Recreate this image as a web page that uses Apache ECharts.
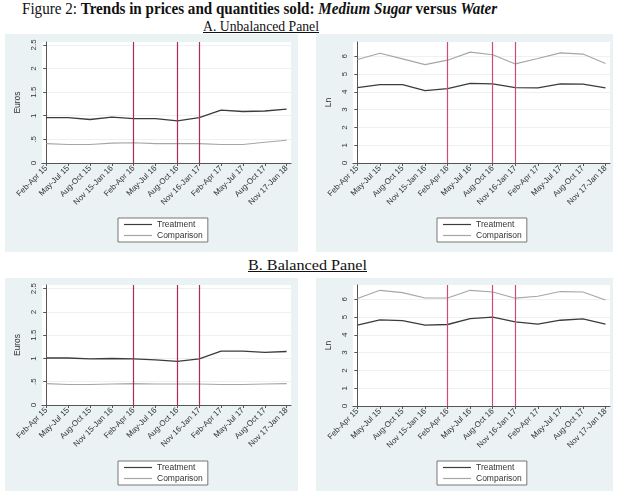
<!DOCTYPE html>
<html>
<head>
<meta charset="utf-8">
<script src="https://cdn.jsdelivr.net/npm/echarts@6/dist/echarts.min.js"></script>
<style>
  body { margin: 0; background: #fff; width: 617px; height: 491px; position: relative; overflow: hidden; }
  .ttl { position: absolute; font-family: "Liberation Serif", serif; color: #111; white-space: nowrap; transform-origin: 0 0; }
  .panel { position: absolute; }
</style>
</head>
<body>
<div class="ttl" data-w="475" style="left:22px; top:0px; font-size:16px;">Figure 2: <b>Trends in prices and quantities sold: <i>Medium Sugar</i> versus <i>Water</i></b></div>
<div class="ttl" data-w="116" style="left:203px; top:17px; font-size:15.5px; text-decoration:underline;">A. Unbalanced Panel</div>
<div class="ttl" data-w="119" style="left:248px; top:256px; font-size:15.5px; text-decoration:underline;">B. Balanced Panel</div>

<div id="euroA" class="panel" style="left:5px; top:34px; width:293px; height:218px;"></div>
<div id="lnA" class="panel" style="left:316px; top:34px; width:297px; height:218px;"></div>
<div id="euroB" class="panel" style="left:5px; top:278px; width:293px; height:213px;"></div>
<div id="lnB" class="panel" style="left:316px; top:278px; width:297px; height:213px;"></div>

<script>
// quarters on the x axis
const categories = ['Feb-Apr 15', 'May-Jul 15', 'Aug-Oct 15', 'Nov 15-Jan 16', 'Feb-Apr 16', 'May-Jul 16',
    'Aug-Oct 16', 'Nov 16-Jan 17', 'Feb-Apr 17', 'May-Jul 17', 'Aug-Oct 17', 'Nov 17-Jan 18'];

// policy dates (red vertical lines)
const breaks = ['Feb-Apr 16', 'Aug-Oct 16', 'Nov 16-Jan 17'];

// A. Unbalanced panel
const euroTreatA = [0.96, 0.96, 0.92, 0.97, 0.94, 0.94, 0.89, 0.96, 1.12, 1.09, 1.10, 1.14];
const euroCompA  = [0.41, 0.39, 0.39, 0.42, 0.43, 0.41, 0.41, 0.41, 0.39, 0.39, 0.44, 0.48];
const lnTreatA   = [4.24, 4.41, 4.41, 4.07, 4.18, 4.48, 4.45, 4.24, 4.22, 4.45, 4.43, 4.22];
const lnCompA    = [5.82, 6.17, 5.85, 5.53, 5.78, 6.23, 6.08, 5.57, 5.87, 6.19, 6.12, 5.59];

// B. Balanced panel
const euroTreatB = [1.01, 1.01, 0.99, 1.00, 0.99, 0.97, 0.94, 0.99, 1.16, 1.16, 1.13, 1.15];
const euroCompB  = [0.46, 0.44, 0.44, 0.45, 0.46, 0.45, 0.45, 0.45, 0.44, 0.44, 0.45, 0.46];
const lnTreatB   = [4.54, 4.84, 4.80, 4.54, 4.58, 4.91, 4.99, 4.73, 4.60, 4.82, 4.90, 4.60];
const lnCompB    = [6.04, 6.50, 6.37, 6.07, 6.07, 6.50, 6.41, 6.06, 6.17, 6.43, 6.41, 5.96];

// y tick labels
const euroTicks = [0, 0.5, 1, 1.5, 2, 2.5];
const lnTicks = [0, 1, 2, 3, 4, 5, 6];

const font = 'Liberation Sans, Arial, sans-serif';

// squeeze titles to the width they take in the figure
document.querySelectorAll('.ttl').forEach(function(el) {
    const w = el.getBoundingClientRect().width;
    const target = +el.getAttribute('data-w');
    if (w > 0) el.style.transform = 'scaleX(' + (target / w) + ')';
});

function pairs(arr) {
    return arr.map(function(v, i) { return [i, v]; });
}

function fmtY(v) {
    return String(v).replace(/^0\./, '.');
}

function makePanel(id, opts) {
    const el = document.getElementById(id);
    const chart = echarts.init(el);
    const xIdx = categories.map(function(c, i) { return i; });
    chart.setOption({
        animation: false,
        backgroundColor: '#eaf2f3',
        textStyle: { fontFamily: font },
        grid: {
            left: opts.left, top: opts.top, width: 263, height: opts.height,
            show: true, backgroundColor: '#fff', borderWidth: 0
        },
        xAxis: {
            type: 'value', min: -0.2, max: 11.2,
            axisLine: { show: true, lineStyle: { color: '#555', width: 1 } },
            axisTick: { show: true, length: 3, customValues: xIdx, lineStyle: { color: '#555' } },
            axisLabel: {
                customValues: xIdx, rotate: 45, fontSize: 8, color: '#333', margin: 4,
                formatter: function(v) { return categories[v]; }
            },
            splitLine: { show: false }
        },
        yAxis: {
            type: 'value', min: 0, max: opts.max,
            name: opts.name, nameLocation: 'middle', nameGap: 15, nameRotate: 90,
            nameTextStyle: { fontSize: 8.5, color: '#333' },
            axisLine: { show: true, lineStyle: { color: '#555', width: 1 } },
            axisTick: { show: true, length: 3, customValues: opts.ticks, lineStyle: { color: '#555' } },
            axisLabel: {
                customValues: opts.ticks, rotate: 90, fontSize: 8, color: '#333', margin: 4,
                formatter: fmtY
            },
            splitLine: { show: true, lineStyle: { color: '#eaf2f3', width: 1 } }
        },
        legend: {
            left: opts.legLeft, top: opts.legTop, orient: 'vertical',
            data: ['Treatment', 'Comparison'],
            icon: 'rect', itemWidth: 28, itemHeight: 1.2, itemGap: 2,
            padding: [2, 5, 2, 6],
            backgroundColor: '#fff', borderColor: '#777', borderWidth: 1,
            textStyle: { fontSize: 8.5, color: '#333', fontFamily: font }
        },
        series: [
            {
                name: 'Treatment', type: 'line', symbol: 'none',
                data: pairs(opts.treat),
                lineStyle: { color: '#3c3c3c', width: 1.3 }, itemStyle: { color: '#3c3c3c' },
                markLine: {
                    silent: true, symbol: 'none', label: { show: false },
                    lineStyle: { color: opts.red, width: 1.2, type: 'solid' },
                    data: breaks.map(function(b) { return { xAxis: categories.indexOf(b) }; })
                },
                z: 3
            },
            {
                name: 'Comparison', type: 'line', symbol: 'none',
                data: pairs(opts.comp),
                lineStyle: { color: '#a6a6a6', width: 1.1 }, itemStyle: { color: '#a6a6a6' },
                z: 2
            }
        ]
    });
    return chart;
}

makePanel('euroA', { left: 23, top: 8, height: 121, max: 2.56, ticks: euroTicks, name: 'Euros',
    treat: euroTreatA, comp: euroCompA, legLeft: 113, legTop: 184, red: '#b02a55' });
makePanel('lnA', { left: 31, top: 8, height: 121, max: 6.8, ticks: lnTicks, name: 'Ln',
    treat: lnTreatA, comp: lnCompA, legLeft: 121, legTop: 184, red: '#d04a78' });
makePanel('euroB', { left: 23, top: 7, height: 120, max: 2.58, ticks: euroTicks, name: 'Euros',
    treat: euroTreatB, comp: euroCompB, legLeft: 113, legTop: 183, red: '#b02a55' });
makePanel('lnB', { left: 31, top: 7, height: 121, max: 6.8, ticks: lnTicks, name: 'Ln',
    treat: lnTreatB, comp: lnCompB, legLeft: 121, legTop: 183, red: '#d04a78' });
</script>
</body>
</html>
